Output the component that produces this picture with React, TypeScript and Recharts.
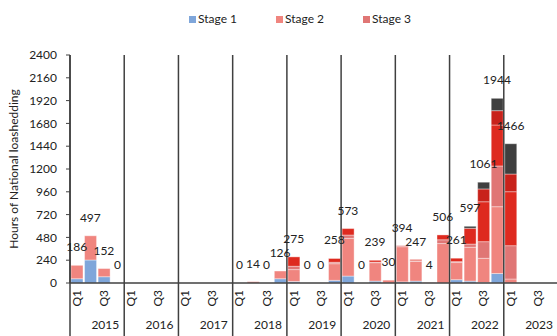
import { Bar, ComposedChart, LabelList, Line, XAxis, YAxis } from "recharts";

const years = ["2015", "2016", "2017", "2018", "2019", "2020", "2021", "2022", "2023"];
const quarters = ["Q1", "Q2", "Q3", "Q4"];

// hours of loadshedding per stage, 2015 Q1 .. 2023 Q4 (one row per year)
const stage1 = [
  45, 242, 66, 0,
  0, 0, 0, 0,
  0, 0, 0, 0,
  0, 0, 0, 45,
  16, 0, 0, 28,
  73, 0, 20, 0,
  12, 20, 0, 0,
  35, 20, 5, 100,
  0, 0, 0, 0
];
const stage2 = [
  141, 255, 86, 0,
  0, 0, 0, 0,
  0, 0, 0, 0,
  0, 14, 0, 81,
  125, 0, 0, 175,
  397, 0, 194, 30,
  370, 207, 4, 415,
  180, 356, 255, 703,
  42, 0, 0, 0
];
const stage3 = [
  0, 0, 0, 0,
  0, 0, 0, 0,
  0, 0, 0, 0,
  0, 0, 0, 0,
  35, 0, 0, 15,
  35, 0, 5, 0,
  12, 8, 0, 40,
  10, 34, 175, 429,
  351, 0, 0, 0
];
const stage4 = [
  0, 0, 0, 0,
  0, 0, 0, 0,
  0, 0, 0, 0,
  0, 0, 0, 0,
  99, 0, 0, 40,
  68, 0, 20, 0,
  0, 12, 0, 51,
  36, 166, 420, 431,
  568, 0, 0, 0
];
const stage5 = [
  0, 0, 0, 0,
  0, 0, 0, 0,
  0, 0, 0, 0,
  0, 0, 0, 0,
  0, 0, 0, 0,
  0, 0, 0, 0,
  0, 0, 0, 0,
  0, 0, 135, 151,
  186, 0, 0, 0
];
const stage6 = [
  0, 0, 0, 0,
  0, 0, 0, 0,
  0, 0, 0, 0,
  0, 0, 0, 0,
  0, 0, 0, 0,
  0, 0, 0, 0,
  0, 0, 0, 0,
  0, 21, 71, 130,
  319, 0, 0, 0
];
// quarterly totals shown above the stacks (null = not reported)
const totals: (number | null)[] = [
  186, 497, 152, 0,
  null, null, null, null,
  null, null, null, null,
  0, 14, 0, 126,
  275, 0, 0, 258,
  573, 0, 239, 30,
  394, 247, 4, 506,
  261, 597, 1061, 1944,
  1466, null, null, null
];
const yTicks = [0, 240, 480, 720, 960, 1200, 1440, 1680, 1920, 2160, 2400];

const stages = [
  { key: "s1", name: "Stage 1", values: stage1, color: "#7fa6da" },
  { key: "s2", name: "Stage 2", values: stage2, color: "#f0857f" },
  { key: "s3", name: "Stage 3", values: stage3, color: "#e07675" },
  { key: "s4", name: "Stage 4", values: stage4, color: "#de2a1f" },
  { key: "s5", name: "Stage 5", values: stage5, color: "#c8221b" },
  { key: "s6", name: "Stage 6", values: stage6, color: "#3f3f3f" }
];
const legendStages = stages.slice(0, 3);

const data = totals.map((total, i) => {
  const row: Record<string, string | number | null> = {
    key: `${years[Math.floor(i / 4)]} ${quarters[i % 4]}`,
    total
  };
  stages.forEach((s) => (row[s.key] = s.values[i]));
  return row;
});

const W = 560;
const H = 336;
const MARGIN = { top: 55, right: 2, left: 10, bottom: 0 };
const Y_WIDTH = 60;
const PLOT_TOP = MARGIN.top;
const HALF_BAND = (W - MARGIN.left - MARGIN.right - Y_WIDTH) / data.length / 2;
const AXIS = "#404040";
const INK = "#222";

function QuarterTick(props: any) {
  const { x, y, payload } = props;
  const i = payload.index ?? 0;
  const q = i % 4;
  const lastOfAll = i === data.length - 1;
  return (
    <g>
      {q === 0 && (
        <line x1={x - HALF_BAND} x2={x - HALF_BAND} y1={PLOT_TOP} y2={H} stroke={AXIS} strokeWidth={1.5} />
      )}
      {lastOfAll && (
        <line x1={x + HALF_BAND} x2={x + HALF_BAND} y1={PLOT_TOP} y2={H} stroke={AXIS} strokeWidth={1.5} />
      )}
      {(q === 0 || q === 2) && (
        <text
          x={x + 4}
          y={y + 7}
          transform={`rotate(-90, ${x + 4}, ${y + 7})`}
          textAnchor="end"
          fontSize={12}
          fill={INK}
        >
          {quarters[q]}
        </text>
      )}
      {q === 3 && (
        <text x={x + HALF_BAND - 5} y={y + 46} textAnchor="end" fontSize={12} fill={INK}>
          {years[Math.floor(i / 4)]}
        </text>
      )}
    </g>
  );
}

function TotalLabel(props: any) {
  const { x, y, value } = props;
  if (value === null || value === undefined) return null;
  return (
    <text x={x} y={y - 14} textAnchor="middle" fontSize={12} fill={INK}>
      {value}
    </text>
  );
}

export default function App() {
  return (
    <div
      style={{
        position: "absolute",
        left: 0,
        top: 0,
        width: 557,
        height: H,
        overflow: "hidden",
        background: "#fff",
        fontFamily: "Lato, 'Open Sans', sans-serif"
      }}
    >
      <div
        style={{
          position: "absolute",
          top: 11,
          left: 189,
          display: "flex",
          fontSize: 12,
          lineHeight: "16px",
          color: INK
        }}
      >
        {legendStages.map((s) => (
          <div key={s.key} style={{ width: 87, display: "flex", alignItems: "center" }}>
            <span style={{ width: 7, height: 7, background: s.color, marginRight: 2 }} />
            {s.name}
          </div>
        ))}
      </div>
      <ComposedChart width={W} height={H} data={data} margin={MARGIN} barCategoryGap={1}>
        <XAxis
          dataKey="key"
          interval={0}
          tickLine={false}
          tickSize={0}
          tickMargin={0}
          height={H - 283}
          axisLine={{ stroke: AXIS, strokeWidth: 1.5 }}
          tick={(p: any) => <QuarterTick {...p} />}
        />
        <YAxis
          type="number"
          domain={[0, 2400]}
          ticks={yTicks}
          width={Y_WIDTH}
          tickSize={4}
          tickMargin={9}
          axisLine={{ stroke: AXIS, strokeWidth: 1.5 }}
          tickLine={{ stroke: AXIS }}
          tick={{ fill: INK, fontSize: 12 }}
          label={{
            value: "Hours of National loashedding",
            angle: -90,
            position: "insideLeft",
            offset: 4,
            style: { textAnchor: "middle", fill: INK, fontSize: 12 }
          }}
        />
        {stages.map((s) => (
          <Bar
            key={s.key}
            dataKey={s.key}
            name={s.name}
            stackId="hours"
            fill={s.color}
            stroke="#ffffff"
            strokeOpacity={0.5}
            strokeWidth={0.75}
            isAnimationActive={false}
          />
        ))}
        <Line
          dataKey="total"
          stroke="none"
          dot={false}
          activeDot={false}
          legendType="none"
          isAnimationActive={false}
        >
          <LabelList dataKey="total" content={(p: any) => <TotalLabel {...p} />} />
        </Line>
      </ComposedChart>
    </div>
  );
}
